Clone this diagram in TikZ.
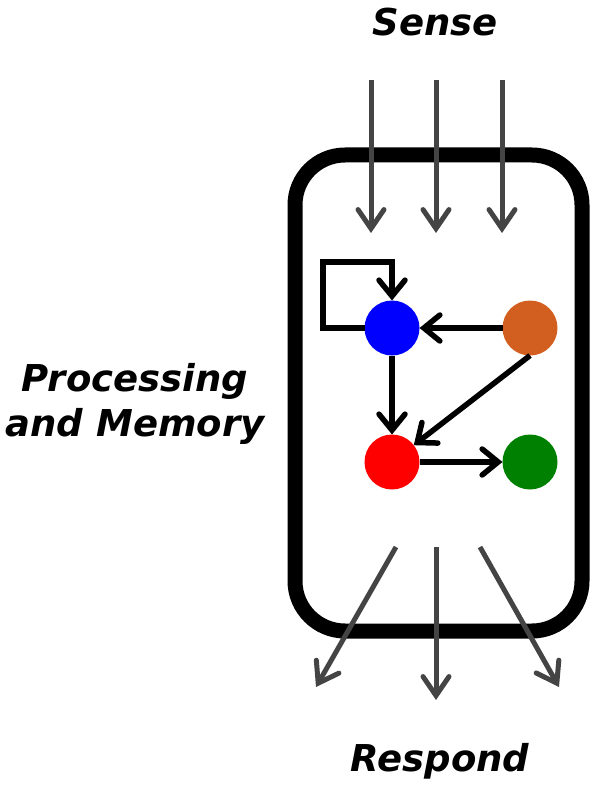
\documentclass[tikz,border=0pt]{standalone}
\usepackage{fontspec}
\newfontfamily\labfont{DejaVu Sans}
\usetikzlibrary{arrows.meta,positioning}
\definecolor{inColor}{HTML}{444444}
\definecolor{orColor}{HTML}{D25F20}
\definecolor{grColor}{HTML}{008000}

\begin{document}
\begin{tikzpicture}[x=1pt,y=-1pt,
	lab/.style={font=\labfont\bfseries\itshape\fontsize{37}{45}\selectfont, align=center},
	dot/.style={circle, minimum size=55pt, inner sep=0, outer sep=0},
	flow/.style={line width=5.5pt, black, -{Straight Barb[length=16pt,width=26pt,line cap=round]}},
	io/.style={line width=5pt, inColor, -{Straight Barb[length=19pt,width=26pt,line cap=round]}}]
	\useasboundingbox (0,0) rectangle (597,786);
	
	\node[draw, line width=15pt, rounded corners=50pt, minimum width=287pt, minimum height=476pt] (cell) at (438.5,393) {};
	
	\node[lab] (sense) at (435,22) {Sense};
	\node[lab] (proc) at (135,404) {Processing\\and Memory};
	\node[lab] (resp) at (440,761) {Respond};
	
	\node[dot, fill=blue] (blue) at (392,328) {};
	\node[dot, fill=orColor] (orange) at (530,328) {};
	\node[dot, fill=red] (red) at (392,462) {};
	\node[dot, fill=grColor] (green) at (530,462) {};
	
	% sense inputs
	\coordinate (s1) at (371,80);  \coordinate (s1x) at (371,233);
	\coordinate (s2) at (436,80);  \coordinate (s2x) at (436,233);
	\coordinate (s3) at (502,80);  \coordinate (s3x) at (502,233);
	\draw[io] (s1) -- (s1x);
	\draw[io] (s2) -- (s2x);
	\draw[io] (s3) -- (s3x);
	
	% responses
	\coordinate (r1) at (396,547); \coordinate (r1x) at (316,687);
	\coordinate (r2) at (436,547); \coordinate (r2x) at (436,700);
	\coordinate (r3) at (480,547); \coordinate (r3x) at (559,687);
	\draw[io] (r1) -- (r1x);
	\draw[io] (r2) -- (r2x);
	\draw[io] (r3) -- (r3x);
	
	\draw[flow] (blue.west) -| (323,262) -| (blue.north);
	\draw[flow] (orange) -- (blue);
	\draw[flow] (blue) -- (red);
	\draw[flow] (orange.south) -- (red);
	\draw[flow] (red) -- (green);
\end{tikzpicture}
\end{document}
